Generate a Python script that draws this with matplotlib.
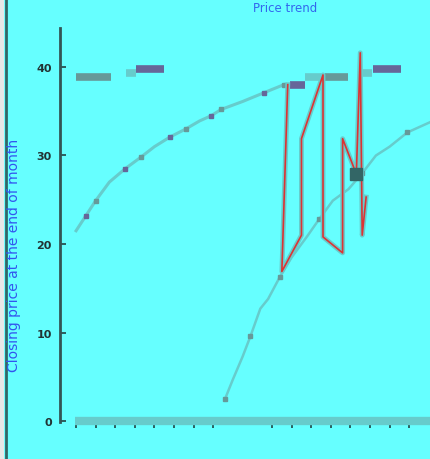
import numpy as np
import matplotlib
matplotlib.use("Agg")
import matplotlib.pyplot as plt
from matplotlib.lines import Line2D

# rising curve on the left (concave)
curve_a_x = [0, 0.5, 1.0, 1.7, 2.5, 3.3, 4.0, 4.8, 5.6, 6.3, 6.9, 7.4, 8.5, 9.6, 10.6]
curve_a_y = [21.5, 23.2, 24.9, 27.0, 28.5, 29.8, 31.0, 32.1, 33.0, 33.9, 34.5, 35.2, 36.1, 37.1, 38.0]

# rising curve on the right
curve_b_x = [7.6, 8.0, 8.5, 8.9, 9.4, 9.8, 10.4, 11.0, 11.8, 12.4, 13.1, 13.9, 14.6, 15.3, 16.0, 16.9, 17.6, 18.1]
curve_b_y = [2.5, 4.7, 7.3, 9.6, 12.7, 13.8, 16.3, 18.5, 20.9, 22.8, 24.9, 26.2, 28.0, 30.0, 31.0, 32.6, 33.3, 33.8]

# oscillating series
osc_x = [10.8, 10.5, 11.5, 11.5, 12.6, 12.6, 13.6, 13.6, 14.3, 14.5, 14.6, 14.8]
osc_y = [38.0, 16.9, 21.0, 31.9, 39.1, 20.8, 19.0, 31.9, 27.9, 41.6, 21.0, 25.3]

# flat segments near the top
seg_start = [0.0, 2.55, 3.06, 10.9, 11.7, 12.7, 14.6, 15.15]
seg_end = [1.79, 3.06, 4.49, 11.7, 12.5, 13.9, 15.1, 16.6]
seg_level = [38.9, 39.3, 39.8, 38.0, 38.9, 38.9, 39.3, 39.8]
seg_color = ['#669999', '#66cccc', '#666699', '#666699', '#66cccc', '#669999', '#66cccc', '#666699']

xticks = [0, 1, 2, 3, 4, 5, 6, 7, 10, 11, 12, 13, 14, 15, 16, 17]
yticks = [0, 10, 20, 30, 40]

bg = '#66ffff'
fig = plt.figure(figsize=(4.31, 4.60), dpi=100)
fig.patch.set_facecolor(bg)
ax = fig.add_axes([60/431, 37/460, 371/431, 394/460])
ax.set_facecolor(bg)

ax.plot(curve_a_x, curve_a_y, color='#66cccc', lw=2.2, zorder=2)
ax.plot(curve_a_x[1::3], curve_a_y[1::3], 's', color='#666699', ms=3, zorder=3)
ax.plot(curve_a_x[2::3], curve_a_y[2::3], 's', color='#669999', ms=3, zorder=3)

ax.plot(curve_b_x, curve_b_y, color='#66cccc', lw=1.8, zorder=2)
ax.plot(curve_b_x[::3], curve_b_y[::3], 's', color='#669999', ms=2.5, zorder=3)

for s, e, lv, c in zip(seg_start, seg_end, seg_level, seg_color):
    ax.plot([s, e], [lv, lv], color=c, lw=5.5, solid_capstyle='butt', zorder=2)

ax.plot(osc_x, osc_y, color='#66cccc', lw=3.5, zorder=3)
ax.plot(osc_x, osc_y, color='#dd3333', lw=1.2, zorder=4)
ax.plot(osc_x[8], osc_y[8], 's', color='#336666', ms=8, zorder=5)

# thick base bar along zero
ax.plot([-0.05, 18.2], [0, 0], color='#66cccc', lw=6, solid_capstyle='butt', clip_on=False, zorder=2)

ax.set_xlim(-0.82, 18.11)
ax.set_ylim(-0.1, 44.4)
ax.set_xticks(xticks)
ax.set_xticklabels([])
ax.set_yticks(yticks)
ax.tick_params(axis='x', direction='out', length=4, width=1.2, color='#224444', pad=2)
ax.tick_params(axis='y', direction='in', length=4, width=1.2, color='#224444',
               labelsize=8, labelcolor='#223333', pad=6)
for lab in ax.get_yticklabels():
    lab.set_fontweight('bold')

for side in ['top', 'right', 'bottom']:
    ax.spines[side].set_visible(False)
ax.spines['left'].set_color('#335555')
ax.spines['left'].set_linewidth(2)

# left border of the frame
fig.add_artist(Line2D([6/431, 6/431], [0, 1], color='#336666', lw=2))
fig.add_artist(Line2D([2/431, 2/431], [0, 1], color='#e8e8e8', lw=3))

fig.text(14/431, 1 - 255/460, 'Closing price at the end of month', rotation=90,
         ha='center', va='center', color='#3355ee', fontsize=10)
fig.text(285/431, 1 - 12/460, 'Price trend', ha='center', va='baseline',
         color='#3366ee', fontsize=8.5)

fig.savefig('out.png', dpi=100, facecolor=bg)
